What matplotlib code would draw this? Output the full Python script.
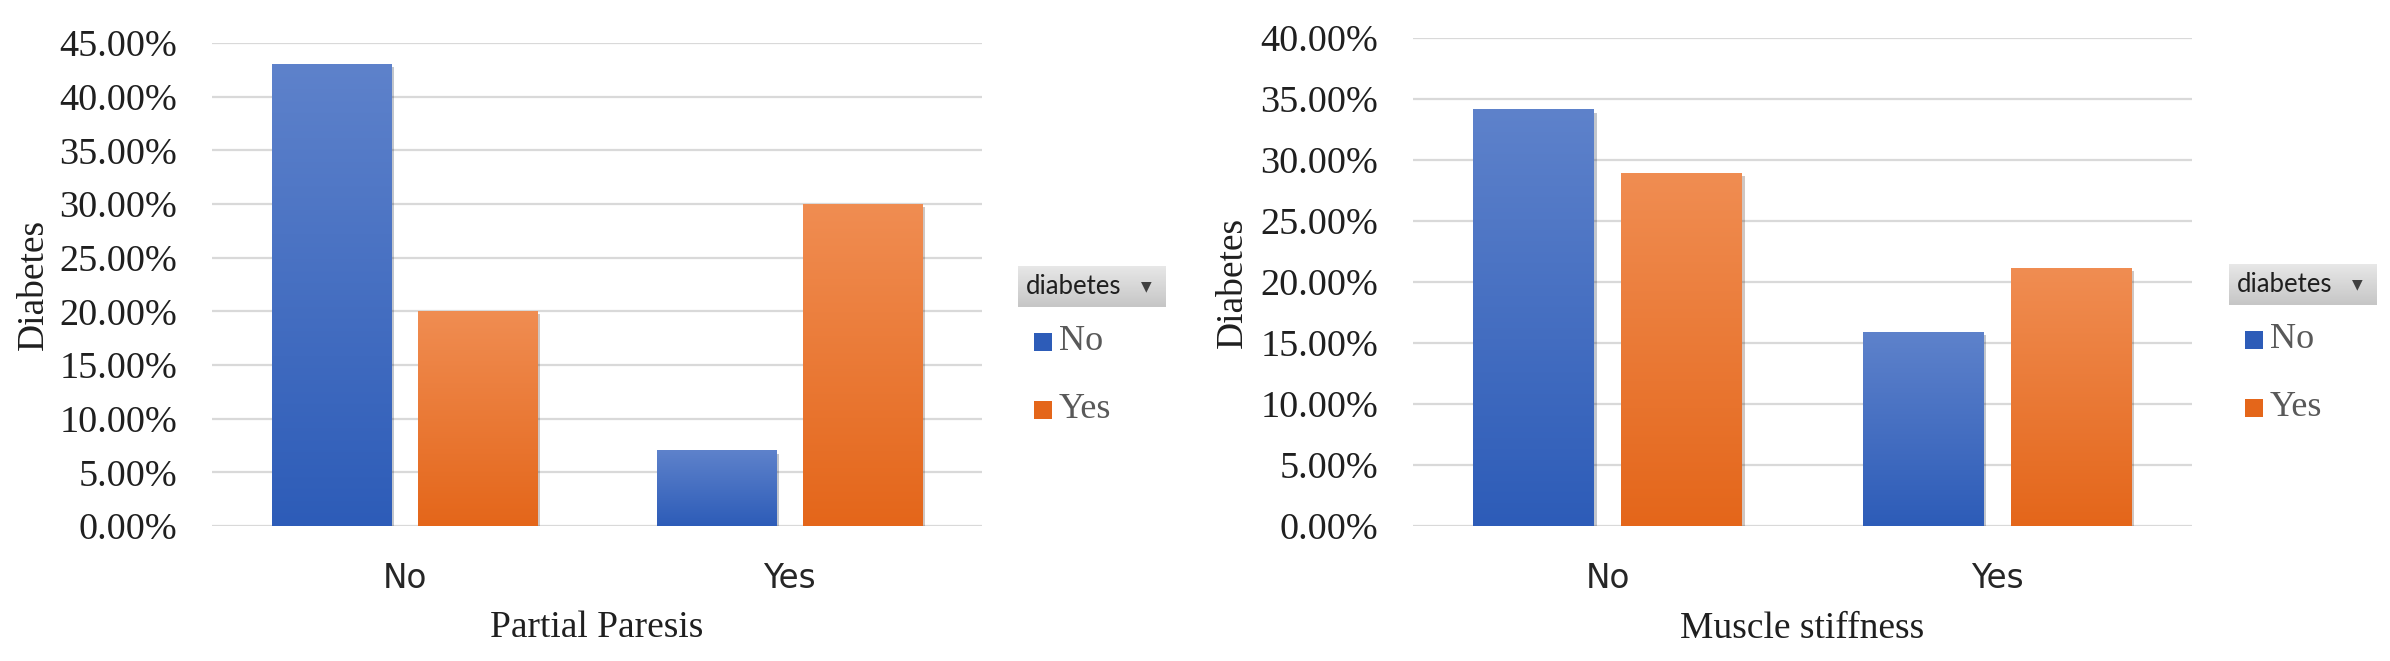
import matplotlib.pyplot as plt
import numpy as np
from matplotlib import patheffects
from matplotlib.colors import LinearSegmentedColormap
from matplotlib.patches import Rectangle
from matplotlib.ticker import PercentFormatter

categories = ['No', 'Yes']
series_names = ['No', 'Yes']

# percentages of diabetes = No / Yes for each category
paresis_diab_no = [43.0, 7.0]
paresis_diab_yes = [20.0, 30.0]
stiffness_diab_no = [34.1, 15.9]
stiffness_diab_yes = [28.9, 21.1]

W, H = 2390, 661
BLUE = ('#5E82CB', '#2D5CB8')
ORANGE = ('#F08D52', '#E4661A')
SERIF = 'Liberation Serif'


def px(x, y):
    # figure fraction from pixel position (top-left origin)
    return x / W, 1 - y / H


def gradient_bars(ax, bars, colors):
    cmap = LinearSegmentedColormap.from_list('g', [colors[1], colors[0]])
    grad = np.linspace(0, 1, 256).reshape(-1, 1)
    for b in bars:
        x0, y0 = b.get_x(), b.get_y()
        ax.imshow(grad, cmap=cmap, origin='lower', aspect='auto',
                  extent=(x0, x0 + b.get_width(), y0, y0 + b.get_height()),
                  zorder=3, interpolation='bilinear')


def draw_chart(ax, no_vals, yes_vals, ymax, xlabel):
    x = np.arange(len(categories))
    width, off = 0.31, 0.19
    shadow = [patheffects.SimplePatchShadow(offset=(2, -2), alpha=0.25),
              patheffects.Normal()]
    b1 = ax.bar(x - off, no_vals, width, color=BLUE[1], zorder=2,
                path_effects=shadow)
    b2 = ax.bar(x + off, yes_vals, width, color=ORANGE[1], zorder=2,
                path_effects=shadow)
    gradient_bars(ax, b1, BLUE)
    gradient_bars(ax, b2, ORANGE)

    ax.set_xlim(-0.5, len(categories) - 0.5)
    ax.set_ylim(0, ymax)
    ax.set_yticks(np.arange(0, ymax + 0.1, 5))
    ax.yaxis.set_major_formatter(PercentFormatter(xmax=100, decimals=2))
    ax.set_xticks(x)
    ax.set_xticklabels(categories, fontfamily='DejaVu Sans', fontsize=23.5,
                       color='#262626')
    for lbl in ax.get_yticklabels():
        lbl.set_fontfamily(SERIF)
        lbl.set_fontsize(27.5)
        lbl.set_color('#1F1F1F')
    ax.tick_params(axis='both', length=0)
    ax.tick_params(axis='y', pad=25)
    ax.tick_params(axis='x', pad=26)

    ax.yaxis.grid(True, color='#D9D9D9', linewidth=1.6)
    ax.set_axisbelow(True)
    for s in ax.spines.values():
        s.set_visible(False)

    ax.set_ylabel('Diabetes', fontfamily=SERIF, fontsize=27, color='#1F1F1F')
    ax.yaxis.label.set_va('center')
    ax.yaxis.set_label_coords(-0.232, 0.5)
    ax.set_xlabel(xlabel, fontfamily=SERIF, fontsize=27, color='#1F1F1F')
    ax.xaxis.label.set_va('center')
    ax.xaxis.set_label_coords(0.5, -0.211)


def draw_legend(fig, left, top):
    # filter button box with gray gradient
    bw, bh = 148, 41
    gx0, gy1 = px(left, top)
    gx1, gy0 = px(left + bw, top + bh)
    gax = fig.add_axes([gx0, gy0, gx1 - gx0, gy1 - gy0])
    gcmap = LinearSegmentedColormap.from_list('gray', ['#C6C6C6', '#E8E8E8'])
    gax.imshow(np.linspace(0, 1, 64).reshape(-1, 1), cmap=gcmap,
               origin='lower', aspect='auto', extent=(0, 1, 0, 1))
    gax.set_axis_off()
    fig.text(*px(left + 8, top + bh / 2), 'diabetes', fontfamily='Lato',
             fontsize=18.5, color='#1F1F1F', va='center', ha='left')
    fig.text(*px(left + 128, top + bh / 2), '\u25BC', fontfamily='DejaVu Sans',
             fontsize=10, color='#404040', va='center', ha='center')

    colors = [BLUE, ORANGE]
    rows = [top + 76, top + 144]
    for name, col, cy in zip(series_names, colors, rows):
        sx, sy = px(left + 16, cy + 9)
        fig.patches.append(Rectangle((sx, sy), 18 / W, 18 / H,
                                     transform=fig.transFigure,
                                     facecolor=col[1], edgecolor='none'))
        fig.text(*px(left + 41, cy), name, fontfamily=SERIF, fontsize=26,
                 color='#595959', va='center', ha='left')


fig = plt.figure(figsize=(W / 100, H / 100), dpi=100)

ax1 = fig.add_axes([212 / W, 1 - 526 / H, (982 - 212) / W, (526 - 43) / H])
draw_chart(ax1, paresis_diab_no, paresis_diab_yes, 45, 'Partial Paresis')

ax2 = fig.add_axes([1413 / W, 1 - 526 / H, (2192 - 1413) / W, (526 - 38) / H])
draw_chart(ax2, stiffness_diab_no, stiffness_diab_yes, 40, 'Muscle stiffness')

draw_legend(fig, 1018, 266)
draw_legend(fig, 2229, 264)

fig.savefig('out.png', dpi=100)
